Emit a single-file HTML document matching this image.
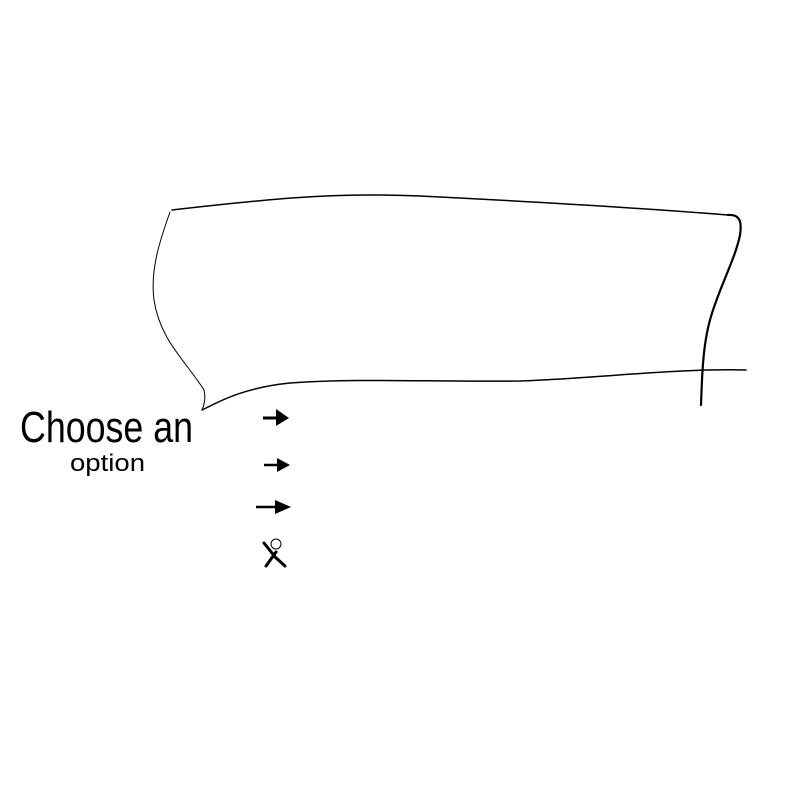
<!DOCTYPE html>
<html><head><meta charset="utf-8"><style>
html,body{margin:0;padding:0;background:#fff;width:800px;height:800px;overflow:hidden}
svg{display:block}
</style></head><body>
<svg width="800" height="800" viewBox="0 0 800 800">
  <g fill="none" stroke="#000" stroke-linecap="round">
    <path d="M172 210 C260 200 330 192 420 196 C540 202 640 208 728 215" stroke-width="1.5"/>
    <path d="M170 212 C160 240 150 270 154 300 C160 340 185 360 204 390 C206 398 204 406 202 410" stroke-width="1"/>
    <path d="M202 410 C215 404 240 388 290 383 C360 378 430 382 520 381 C600 378 680 368 746 370" stroke-width="1.5"/>
    <path d="M728 215 C740 214 742 222 740 235 C735 260 718 290 710 320 C703 345 702 375 701 405" stroke-width="2.2"/>
  </g>
  <text x="20" y="442" font-family="Liberation Sans, sans-serif" font-size="44" font-weight="300" textLength="173" lengthAdjust="spacingAndGlyphs">Choose an</text>
  <text x="70" y="471" font-family="Liberation Sans, sans-serif" font-size="24" textLength="75" lengthAdjust="spacingAndGlyphs">option</text>
  <g>
    <line x1="263" y1="418" x2="278" y2="418" stroke="#000" stroke-width="3"/>
    <polygon points="276,409 289,418 276,426" fill="#000"/>
  </g>
  <g>
    <line x1="264" y1="465" x2="279" y2="465" stroke="#000" stroke-width="2.5"/>
    <polygon points="277,458 290,465 277,472" fill="#000"/>
  </g>
  <g>
    <line x1="256" y1="507" x2="278" y2="507" stroke="#000" stroke-width="2.5"/>
    <polygon points="275,500 291,507 275,514" fill="#000"/>
  </g>
  <g stroke="#000" fill="none" stroke-linecap="round">
    <circle cx="276" cy="544" r="5" stroke-width="1"/>
    <line x1="264" y1="543" x2="276" y2="558" stroke-width="3"/>
    <line x1="276" y1="552" x2="266" y2="566" stroke-width="3"/>
    <line x1="274" y1="556" x2="285" y2="566" stroke-width="3"/>
  </g>
</svg>
</body></html>
